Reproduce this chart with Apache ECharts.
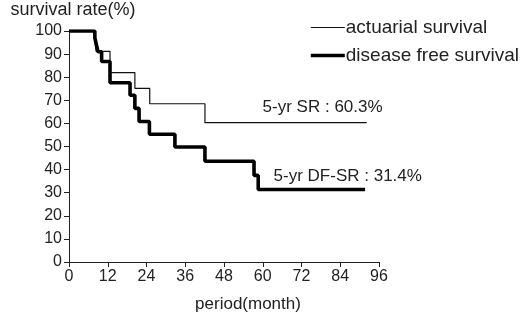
<!DOCTYPE html>
<html>
<head>
<meta charset="utf-8">
<title>survival</title>
<style>
    html,body{margin:0;padding:0;background:#fff;}
    #main{width:526px;height:318px;}
</style>
</head>
<body>
<div id="main"></div>
<script src="https://cdn.jsdelivr.net/npm/echarts@6/dist/echarts.min.js"></script>
<script>
    // step curves: each point = time (month) where a new level starts
    var osName = 'actuarial survival',
        dfsName = 'disease free survival';
    var osTimes  = [0, 8.0, 8.4, 12.7, 20.4, 25.0, 42.1, 92.2];
    var osRates  = [100, 95.5, 91.2, 82.0, 75.2, 68.5, 60.3, 60.3];
    var dfsTimes = [0, 8.0, 8.5, 9.0, 10.1, 12.7, 18.9, 20.4, 21.7, 24.9, 32.8, 42.1, 57.3, 58.6, 91.7];
    var dfsRates = [100, 97, 94, 91, 86.8, 77.6, 72.2, 66.5, 60.8, 55.3, 49.8, 43.6, 37.5, 31.4, 31.4];
    var xTicks = [0, 12, 24, 36, 48, 60, 72, 84, 96];
    // annotations (text, month where text starts, rate)
    var annTexts = ['5-yr SR : 60.3%', '5-yr DF-SR : 31.4%'];
    var annX = [59.8, 63.2];
    var annY = [67.0, 37.2];

    function zip(a, b) {
        var out = [];
        for (var i = 0; i < a.length; i++) out.push([a[i], b[i]]);
        return out;
    }
    function ann(i) {
        return {
            symbol: 'rect',
            symbolSize: 1,
            itemStyle: {color: 'rgba(0,0,0,0)'},
            data: [{coord: [annX[i], annY[i]], value: annTexts[i]}],
            label: {show: true, position: 'right', distance: 0, formatter: '{c}', color: '#222', fontSize: 17, fontFamily: 'Liberation Sans'}
        };
    }

    var font = 'Liberation Sans';
    var myChart = echarts.init(document.getElementById('main'));
    var option = {
        animation: false,
        backgroundColor: '#fff',
        textStyle: {fontFamily: font, color: '#222'},
        grid: {left: 69, right: 147, top: 31, bottom: 52, containLabel: false},
        legend: {
            data: [
                {name: osName, lineStyle: {width: 1.2}},
                {name: dfsName, lineStyle: {width: 3.6}}
            ],
            orient: 'vertical',
            left: 304,
            top: 13,
            itemWidth: 34,
            itemHeight: 14,
            itemGap: 9,
            itemStyle: {opacity: 0},
            textStyle: {fontSize: 19, color: '#222', fontFamily: font, padding: [0, 0, 0, -4]}
        },
        xAxis: {
            type: 'value',
            min: 0, max: 96, interval: 12,
            name: 'period(month)',
            nameLocation: 'middle',
            nameGap: 34,
            nameTextStyle: {fontSize: 17, color: '#222', padding: [0, 0, 0, 48]},
            axisLine: {lineStyle: {color: '#222', width: 1}},
            axisTick: {length: 5, lineStyle: {color: '#222'}},
            axisLabel: {fontSize: 16, color: '#222', margin: 7,
                formatter: function (v) { return xTicks.indexOf(v) >= 0 ? v : ''; }},
            splitLine: {show: false}
        },
        yAxis: {
            type: 'value',
            min: 0, max: 100, interval: 10,
            name: 'survival rate(%)',
            nameLocation: 'end',
            nameGap: 12,
            nameTextStyle: {fontSize: 18, color: '#222', align: 'center', padding: [0, 0, 0, 8]},
            axisLine: {show: true, lineStyle: {color: '#222', width: 1}},
            axisTick: {show: true, length: 5, lineStyle: {color: '#222'}},
            axisLabel: {fontSize: 16, color: '#222', margin: 7},
            splitLine: {show: false}
        },
        series: [{
            name: osName,
            type: 'line',
            step: 'end',
            symbol: 'none',
            color: '#111',
            lineStyle: {color: '#111', width: 1.2},
            data: zip(osTimes, osRates),
            markPoint: ann(0)
        }, {
            name: dfsName,
            type: 'line',
            step: 'end',
            symbol: 'none',
            color: '#000',
            lineStyle: {color: '#000', width: 3.6},
            data: zip(dfsTimes, dfsRates),
            markPoint: ann(1)
        }]
    };
    myChart.setOption(option);
</script>
</body>
</html>
